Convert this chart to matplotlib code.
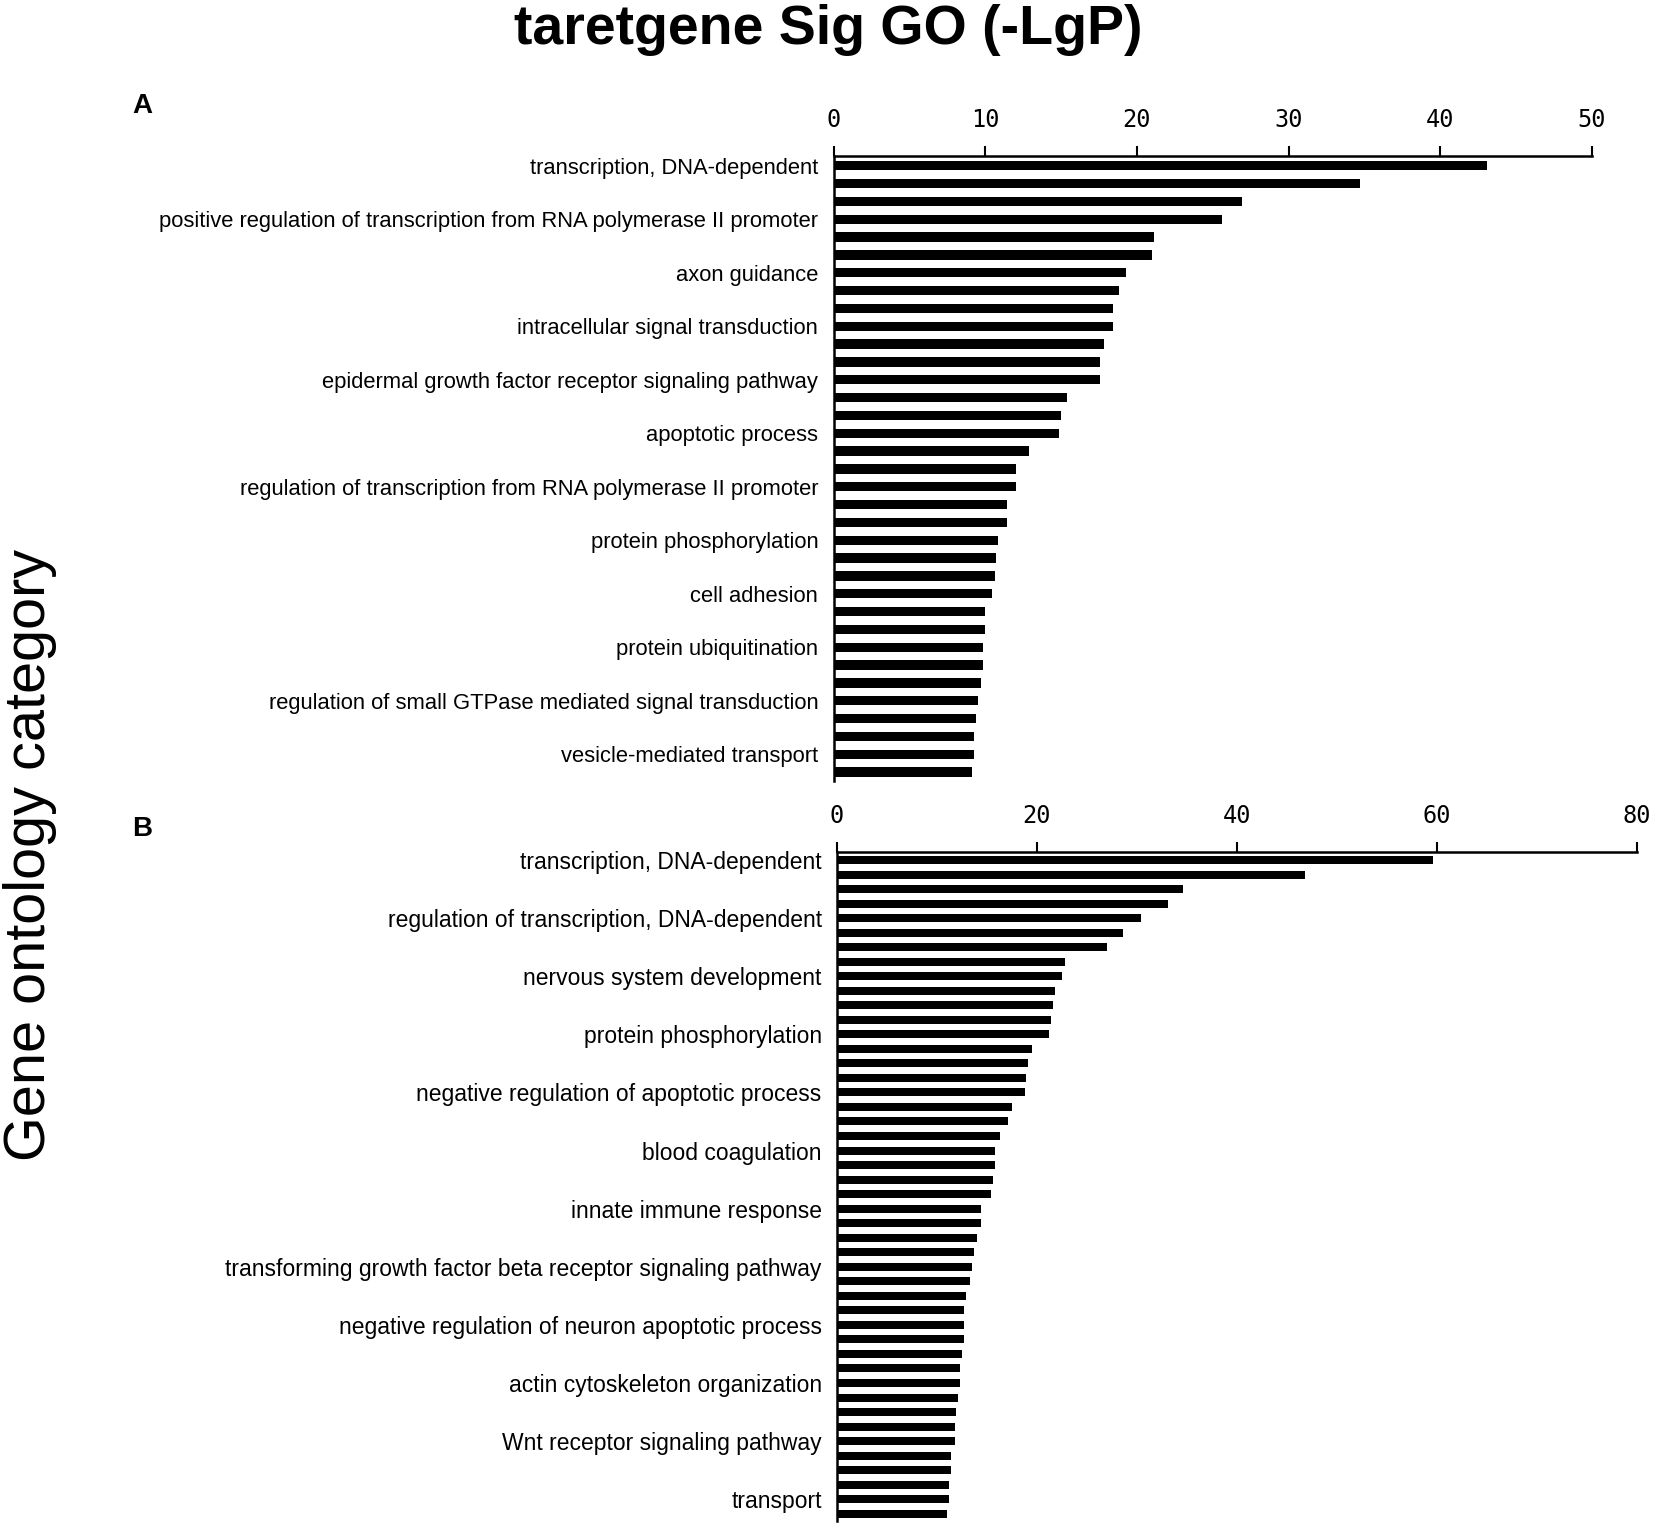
import matplotlib
matplotlib.use('Agg')
import matplotlib.pyplot as plt

# panel A: -LgP per GO term, 35 bars, Excel labels only every 3rd one
values_a = [43.1, 34.7, 26.9, 25.6, 21.1, 21.0, 19.3, 18.8, 18.4, 18.4,
            17.8, 17.6, 17.6, 15.4, 15.0, 14.85, 12.9, 12.05, 12.05, 11.46,
            11.46, 10.84, 10.73, 10.62, 10.47, 10.0, 10.0, 9.87, 9.87, 9.74,
            9.5, 9.39, 9.26, 9.26, 9.15]
labels_a = ['transcription, DNA-dependent',
            'positive regulation of transcription from RNA polymerase II promoter',
            'axon guidance',
            'intracellular signal transduction',
            'epidermal growth factor receptor signaling pathway',
            'apoptotic process',
            'regulation of transcription from RNA polymerase II promoter',
            'protein phosphorylation',
            'cell adhesion',
            'protein ubiquitination',
            'regulation of small GTPase mediated signal transduction',
            'vesicle-mediated transport']
ticks_a = [0, 10, 20, 30, 40, 50]

# panel B: 46 bars, labels every 4th
values_b = [59.6, 46.8, 34.6, 33.1, 30.4, 28.6, 27.0, 22.8, 22.5, 21.8,
            21.6, 21.4, 21.2, 19.5, 19.1, 18.9, 18.8, 17.45, 17.1, 16.33,
            15.77, 15.77, 15.57, 15.4, 14.43, 14.43, 14.03, 13.67, 13.47, 13.27,
            12.9, 12.7, 12.7, 12.7, 12.53, 12.33, 12.33, 12.13, 11.93, 11.77,
            11.77, 11.37, 11.37, 11.2, 11.2, 11.0]
labels_b = ['transcription, DNA-dependent',
            'regulation of transcription, DNA-dependent',
            'nervous system development',
            'protein phosphorylation',
            'negative regulation of apoptotic process',
            'blood coagulation',
            'innate immune response',
            'transforming growth factor beta receptor signaling pathway',
            'negative regulation of neuron apoptotic process',
            'actin cytoskeleton organization',
            'Wnt receptor signaling pathway',
            'transport']
ticks_b = [0, 20, 40, 60, 80]

W, H = 1655, 1524
fig = plt.figure(figsize=(W / 100, H / 100), dpi=100)
fig.patch.set_facecolor('white')


def panel(rect, values, labels, ticks, every, bar_h, lab_size):
    ax = fig.add_axes(rect)
    n = len(values)
    ax.barh(range(n), values, height=bar_h, color='black', edgecolor='none')
    ax.set_ylim(n - 0.5, -0.55)
    ax.set_xlim(ticks[0], ticks[-1])
    ax.xaxis.tick_top()
    ax.set_xticks(ticks)
    ax.set_xticklabels([str(t) for t in ticks], family='DejaVu Sans Mono', fontsize=17)
    ax.tick_params(axis='x', direction='out', length=7, width=1.5, pad=10, color='black')
    ax.set_yticks(range(0, n, every))
    ax.set_yticklabels(labels, family='Liberation Sans', fontsize=lab_size)
    ax.tick_params(axis='y', length=0, pad=11)
    for s in ['right', 'bottom']:
        ax.spines[s].set_visible(False)
    ax.spines['top'].set_linewidth(1.8)
    ax.spines['left'].set_linewidth(1.8)
    ax.set_facecolor('none')
    return ax


def frac(x0, y0, x1, y1):
    return [x0 / W, 1 - y1 / H, (x1 - x0) / W, (y1 - y0) / H]


axa = panel(frac(833.5, 156, 1592, 781), values_a, labels_a, ticks_a, 3, 0.52, 15.8)
axb = panel(frac(837, 852, 1637, 1521), values_b, labels_b, ticks_b, 4, 0.55, 16.5)

fig.text(828 / W, 1 - 30 / H, 'taretgene Sig GO (-LgP)', ha='center', va='center',
         fontsize=40, fontweight='bold', family='Liberation Sans')
fig.text(142 / W, 1 - 106 / H, 'A', ha='center', va='center',
         fontsize=20, fontweight='bold', family='Liberation Sans')
fig.text(142 / W, 1 - 829 / H, 'B', ha='center', va='center',
         fontsize=20, fontweight='bold', family='Liberation Sans')
fig.text(30 / W, 1 - 855 / H, 'Gene ontology category', ha='center', va='center',
         rotation=90, fontsize=41.5, family='Liberation Sans')

plt.savefig('out.png', dpi=100, facecolor='white')
